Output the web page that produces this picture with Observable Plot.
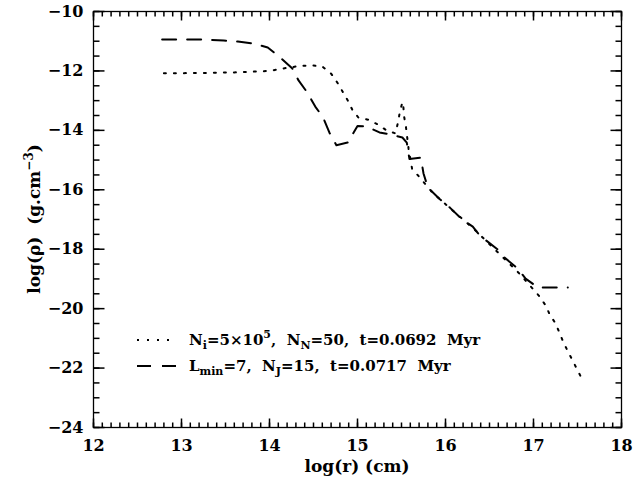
<!DOCTYPE html>
<html><head><meta charset="utf-8">
<script src="https://cdn.jsdelivr.net/npm/d3@7"></script>
<script src="https://cdn.jsdelivr.net/npm/@observablehq/plot@0.6"></script>
<style>
body{margin:0;background:#fff;}
#chart svg{display:block;}
</style></head><body><div id="chart"></div>
<script>
// Dotted curve: N_i=5x10^5, N_N=50, t=0.0692 Myr
const dottedLogR = [12.8, 13.2, 13.6, 14.0, 14.15, 14.35, 14.5, 14.6, 14.7, 14.77, 14.83, 14.89, 14.94, 15.01, 15.12, 15.23, 15.33, 15.43, 15.46, 15.48, 15.51, 15.52, 15.53, 15.55, 15.58, 15.62, 15.7, 15.85, 16.12, 16.32, 16.61, 16.83, 17.06, 17.14, 17.18, 17.25, 17.3, 17.34, 17.55];
const dottedLogRho = [-12.08, -12.07, -12.05, -12.0, -11.92, -11.83, -11.82, -11.85, -12.09, -12.39, -12.69, -13.0, -13.3, -13.57, -13.64, -13.8, -14.0, -14.1, -13.74, -13.4, -13.05, -13.16, -13.54, -13.87, -14.61, -15.29, -15.56, -16.09, -16.8, -17.31, -18.15, -18.79, -19.56, -19.9, -20.17, -20.5, -20.84, -21.14, -22.36];
// Dashed curve: L_min=7, N_J=15, t=0.0717 Myr
const dashedLogR = [12.78, 12.96, 13.26, 13.48, 13.64, 13.82, 13.98, 14.11, 14.26, 14.33, 14.43, 14.52, 14.61, 14.68, 14.76, 14.89, 15.0, 15.1, 15.25, 15.42, 15.51, 15.56, 15.59, 15.72, 15.75, 15.8, 15.93, 16.05, 16.19, 16.31, 16.39, 16.59, 16.67, 16.82, 16.91, 17.05, 17.22, 17.39];
const dashedLogRho = [-10.94, -10.94, -10.94, -10.98, -11.01, -11.08, -11.21, -11.52, -11.92, -12.32, -12.73, -13.2, -13.57, -14.07, -14.5, -14.41, -13.85, -13.87, -14.07, -14.17, -14.24, -14.41, -14.96, -14.92, -15.45, -15.93, -16.3, -16.6, -17.0, -17.24, -17.54, -18.0, -18.28, -18.65, -18.99, -19.29, -19.29, -19.29];

const xTicks = [12, 13, 14, 15, 16, 17, 18];
const yTicks = [-10, -12, -14, -16, -18, -20, -22, -24];
const xMinorTicks = d3.range(120, 181).map(v => v / 10);
const yMinorTicks = d3.range(-48, -19).map(v => v / 2);

const dotted = dottedLogR.map((r, i) => ({r, rho: dottedLogRho[i]}));
const dashed = dashedLogR.map((r, i) => ({r, rho: dashedLogRho[i]}));

const font = "'DejaVu Serif', serif";
const W = 634, H = 486, mL = 93, mR = 13, mT = 11, mB = 59;
const FW = W - mL - mR, FH = H - mT - mB;
const X0 = 12, X1 = 18, Y0 = -24, Y1 = -10;
const DOTS = "2,8", DASH = "14,11";

// inward ticks as short links; pixel lengths converted to data units
const perPxX = (X1 - X0) / FW, perPxY = (Y1 - Y0) / FH;
const tickStyle = {stroke: "black", strokeWidth: 1.5};
const bottomTicks = (vals, len) => Plot.link(vals, {x1: v => v, x2: v => v, y1: Y0, y2: Y0 + len * perPxY, ...tickStyle});
const topTicks = (vals, len) => Plot.link(vals, {x1: v => v, x2: v => v, y1: Y1, y2: Y1 - len * perPxY, ...tickStyle});
const leftTicks = (vals, len) => Plot.link(vals, {y1: v => v, y2: v => v, x1: X0, x2: X0 + len * perPxX, ...tickStyle});
const rightTicks = (vals, len) => Plot.link(vals, {y1: v => v, y2: v => v, x1: X1, x2: X1 - len * perPxX, ...tickStyle});

const chart = Plot.plot({
  width: W, height: H,
  marginLeft: mL, marginRight: mR, marginTop: mT, marginBottom: mB,
  style: {fontFamily: font, fontWeight: "bold", fontSize: "16px", background: "white", color: "black"},
  x: {domain: [X0, X1], label: null},
  y: {domain: [Y0, Y1], label: null},
  marks: [
    Plot.line(dotted, {x: "r", y: "rho", stroke: "black", strokeWidth: 2, strokeDasharray: DOTS}),
    Plot.line(dashed, {x: "r", y: "rho", stroke: "black", strokeWidth: 2, strokeDasharray: DASH}),
    Plot.axisX(xTicks, {anchor: "bottom", tickSize: 0, tickPadding: 12, fill: "black", label: null}),
    Plot.axisY(yTicks, {anchor: "left", tickSize: 0, tickPadding: 10, fill: "black", label: null}),
    bottomTicks(xMinorTicks, 5),
    bottomTicks(xTicks, 9),
    topTicks(xMinorTicks, 5),
    topTicks(xTicks, 9),
    leftTicks(yMinorTicks, 6),
    leftTicks(yTicks, 11),
    rightTicks(yMinorTicks, 6),
    rightTicks(yTicks, 11),
    Plot.frame({stroke: "black", strokeWidth: 1.3})
  ]
});
document.getElementById("chart").appendChild(chart);

const svg = d3.select(chart);

// Axis titles and legend with sub/superscripts
svg.append("text")
  .attr("x", mL + FW / 2).attr("y", 472)
  .attr("text-anchor", "middle")
  .style("font-family", font).style("font-weight", "bold").style("font-size", "17px")
  .text("log(r) (cm)");
const yl = svg.append("text")
  .attr("transform", `translate(40,${mT + FH / 2}) rotate(-90)`)
  .attr("text-anchor", "middle")
  .style("font-family", font).style("font-weight", "bold").style("font-size", "17px")
  .style("white-space", "pre");
yl.append("tspan").text("log(ρ)  (g.cm");
yl.append("tspan").attr("dy", -7).style("font-size", "12px").text("−3");
yl.append("tspan").attr("dy", 7).text(")");

function addText(y, parts) {
  const t = svg.append("text").attr("x", 189).attr("y", y + 5)
    .attr("text-anchor", "start")
    .style("font-family", font).style("font-weight", "bold").style("font-size", "15px")
    .style("white-space", "pre");
  let shift = 0;
  for (const [s, kind] of parts) {
    const target = kind === "sub" ? 4 : kind === "sup" ? -7 : 0;
    const sp = t.append("tspan").attr("dy", target - shift).text(s);
    if (kind) sp.style("font-size", "11px");
    shift = target;
  }
}
svg.append("line").attr("x1", 137).attr("x2", 176).attr("y1", 340).attr("y2", 340)
  .attr("stroke", "black").attr("stroke-width", 2).attr("stroke-dasharray", DOTS);
svg.append("line").attr("x1", 137).attr("x2", 181).attr("y1", 366).attr("y2", 366)
  .attr("stroke", "black").attr("stroke-width", 2).attr("stroke-dasharray", DASH);
addText(340, [["N"], ["i", "sub"], ["=5×10"], ["5", "sup"], [",  N"], ["N", "sub"], ["=50,  t=0.0692  Myr"]]);
addText(366, [["L"], ["min", "sub"], ["=7,  N"], ["J", "sub"], ["=15,  t=0.0717  Myr"]]);
</script>
</body></html>
